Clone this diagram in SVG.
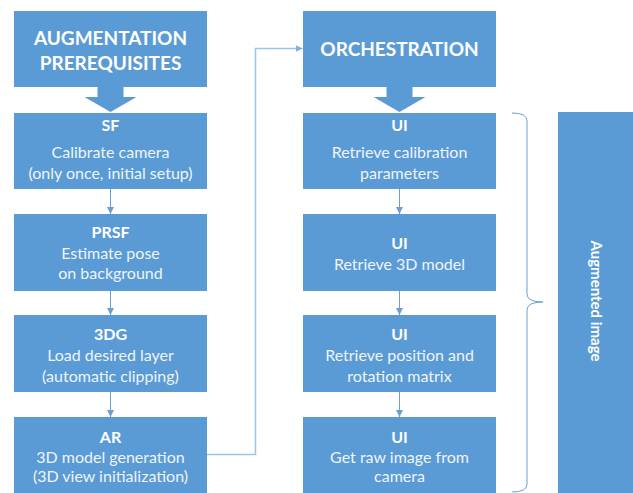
<svg xmlns="http://www.w3.org/2000/svg" width="633" height="493" viewBox="0 0 633 493">
<defs>
<style>
.box{fill:#5b9bd5;}
.hd{font-family:Lato,"Liberation Sans",sans-serif;font-weight:bold;font-size:19px;fill:#fff;text-anchor:middle;}
.t{font-family:Lato,"Liberation Sans",sans-serif;font-size:16px;fill:#eef4fb;text-anchor:middle;}
.b{font-weight:bold;fill:#fff;}
.c{stroke:#6a9fd6;stroke-width:1;fill:none;}
.o{stroke:#9dc3e6;stroke-width:1.5;fill:none;}
</style>
<marker id="ah" viewBox="0 0 10 10" refX="10" refY="5" markerWidth="7" markerHeight="7" markerUnits="userSpaceOnUse" orient="auto">
<path d="M0,0 L10,5 L0,10 z" fill="#6a9fd6"/>
</marker>
<marker id="ah2" viewBox="0 0 10 10" refX="10" refY="5" markerWidth="7" markerHeight="7" markerUnits="userSpaceOnUse" orient="auto">
<path d="M0,0 L10,5 L0,10 z" fill="#7fb0e0"/>
</marker>
</defs>
<rect width="633" height="493" fill="#fff"/>

<g id="header-aug">
<rect class="box" x="14" y="11" width="193" height="76"/>
<path class="box" d="M97.5,87 H123.5 V97 H136.5 L110.5,112 L84.5,97 H97.5 z"/>
<text class="hd" x="110.5" y="44.5">AUGMENTATION</text>
<text class="hd" x="110.5" y="70">PREREQUISITES</text>
</g>
<g id="header-orch">
<rect class="box" x="303" y="11" width="193" height="76"/>
<path class="box" d="M386.5,87 H412.5 V97 H425.5 L399.5,112 L373.5,97 H386.5 z"/>
<text class="hd" x="399.5" y="55.5">ORCHESTRATION</text>
</g>

<g id="sf">
<rect class="box" x="14" y="113" width="193" height="76"/>
<text class="t b" x="110.5" y="131">SF</text>
<text class="t" x="110.5" y="157.5">Calibrate camera</text>
<text class="t" x="110.5" y="178.5">(only once, initial setup)</text>
</g>
<g id="prsf">
<rect class="box" x="14" y="214" width="193" height="77"/>
<text class="t b" x="110.5" y="238">PRSF</text>
<text class="t" x="110.5" y="258.5">Estimate pose</text>
<text class="t" x="110.5" y="279">on background</text>
</g>
<g id="3dg">
<rect class="box" x="14" y="315" width="193" height="77"/>
<text class="t b" x="110.5" y="340">3DG</text>
<text class="t" x="110.5" y="360.5">Load desired layer</text>
<text class="t" x="110.5" y="381.5">(automatic clipping)</text>
</g>
<g id="ar">
<rect class="box" x="14" y="417" width="193" height="76"/>
<text class="t b" x="110.5" y="442.5">AR</text>
<text class="t" x="110.5" y="462.5">3D model generation</text>
<text class="t" x="110.5" y="482">(3D view initialization)</text>
</g>

<g id="ui1">
<rect class="box" x="303" y="113" width="193" height="76"/>
<text class="t b" x="399.5" y="131">UI</text>
<text class="t" x="399.5" y="157.5">Retrieve calibration</text>
<text class="t" x="399.5" y="178.5">parameters</text>
</g>
<g id="ui2">
<rect class="box" x="303" y="214" width="193" height="77"/>
<text class="t b" x="399.5" y="248.5">UI</text>
<text class="t" x="399.5" y="270">Retrieve 3D model</text>
</g>
<g id="ui3">
<rect class="box" x="303" y="315" width="193" height="77"/>
<text class="t b" x="399.5" y="340">UI</text>
<text class="t" x="399.5" y="360.5">Retrieve position and</text>
<text class="t" x="399.5" y="381.5">rotation matrix</text>
</g>
<g id="ui4">
<rect class="box" x="303" y="417" width="193" height="76"/>
<text class="t b" x="399.5" y="442.5">UI</text>
<text class="t" x="399.5" y="462.5">Get raw image from</text>
<text class="t" x="399.5" y="482">camera</text>
</g>

<g id="augmented-image">
<rect class="box" x="558" y="112" width="75" height="381"/>
<text transform="translate(590.5,301) rotate(90)" style="font-family:Lato,'Liberation Sans',sans-serif;font-weight:bold;font-size:15px;fill:#fff;text-anchor:middle">Augmented image</text>
</g>

<g id="connectors">
<line class="c" x1="110.5" y1="189" x2="110.5" y2="214" marker-end="url(#ah)"/>
<line class="c" x1="110.5" y1="291" x2="110.5" y2="315" marker-end="url(#ah)"/>
<line class="c" x1="110.5" y1="392" x2="110.5" y2="417" marker-end="url(#ah)"/>
<line class="c" x1="399.5" y1="189" x2="399.5" y2="214" marker-end="url(#ah)"/>
<line class="c" x1="399.5" y1="291" x2="399.5" y2="315" marker-end="url(#ah)"/>
<line class="c" x1="399.5" y1="392" x2="399.5" y2="417" marker-end="url(#ah)"/>
<path class="o" d="M207,454.5 H255.5 V48.5 H302.5" marker-end="url(#ah2)"/>
<path d="M512,113 Q527,113 527,121 V294 Q527,302 543,302 Q527,302 527,310 V484 Q527,492 512,492" fill="none" stroke="#6a9fd6" stroke-width="1"/>
</g>
</svg>
